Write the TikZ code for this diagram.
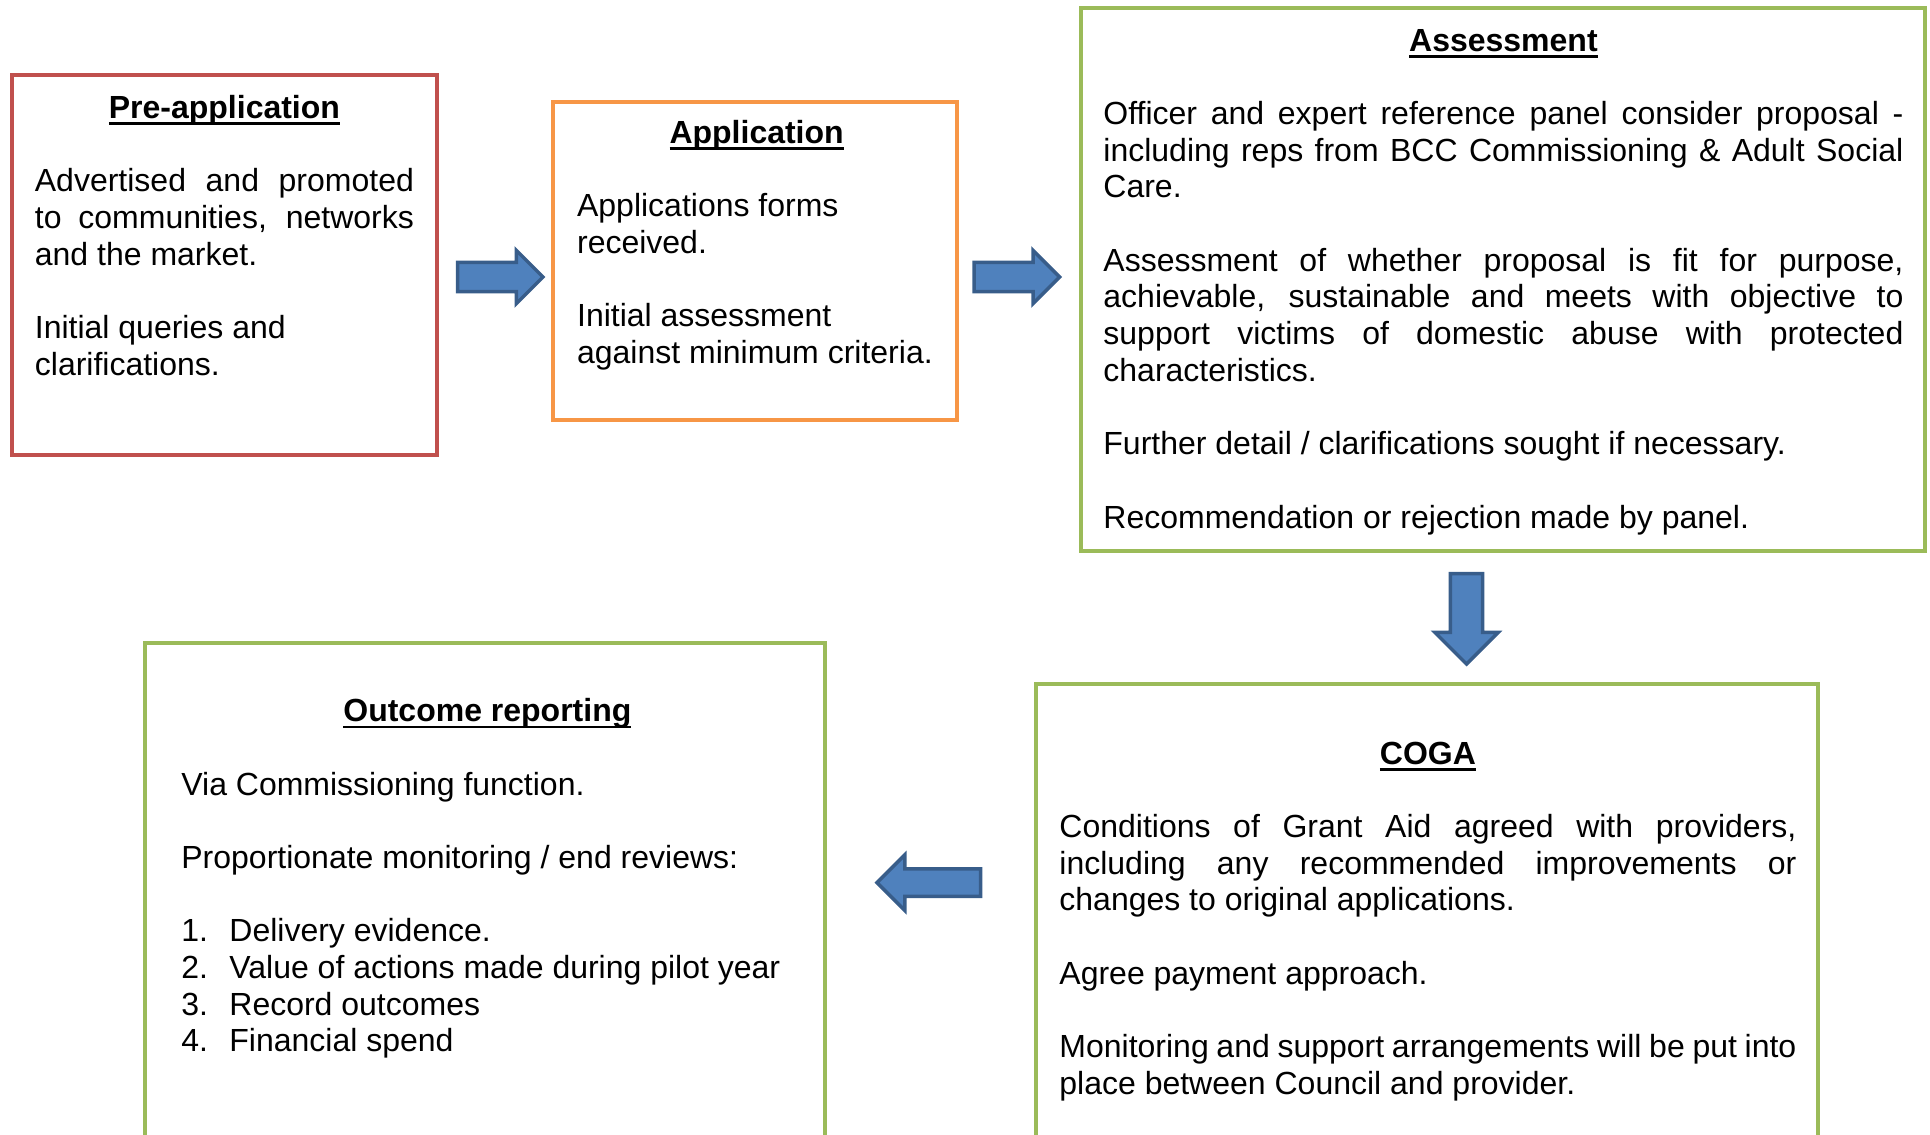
\documentclass[tikz,border=0pt]{standalone}
\usepackage{fontspec}
\setmainfont{Liberation Sans}
\usepackage{xcolor}
\usepackage{tikz}
\usetikzlibrary{shapes,arrows,positioning,calc}
\definecolor{boxred}{RGB}{192,80,77}
\definecolor{boxorange}{RGB}{247,150,70}
\definecolor{boxgreen}{RGB}{155,187,89}
\definecolor{arrowfill}{RGB}{79,129,189}
\definecolor{arrowline}{RGB}{56,93,138}

\newcommand{\boxhead}[1]{\par\centerline{\rule{0pt}{12pt}\setbox0=\hbox{\bfseries #1}\rlap{\rule[-3.4pt]{\wd0}{1.4pt}}\box0}}
\newcommand{\blankrow}{\par\mbox{}\par}
\newcommand{\itemno}[1]{\makebox[24pt][l]{#1}}

\begin{document}
\begin{tikzpicture}[x=0.5pt, y=-0.5pt,
    frame/.style={rectangle, draw=#1, line width=2pt, inner sep=0pt},
    body/.style={anchor=north west, inner sep=0pt, align=justify, font=\fontsize{16pt}{18.35pt}\selectfont,
        execute at begin node={\parindent=0pt\tolerance=10000\hbadness=10000\hyphenpenalty=10000}},
    bigarrow/.style={single arrow, draw=arrowline, fill=arrowfill, line width=1.75pt, inner xsep=0pt, anchor=tail, single arrow head extend=#1}]

    \useasboundingbox (0,0) rectangle (1930,1134);

    % frames
    \node[frame=boxred, minimum width=212.5pt, minimum height=190pt] (pre) at (224.5,265) {};
    \node[frame=boxorange, minimum width=202pt, minimum height=159.2pt] (app) at (755,260.9) {};
    \node[frame=boxgreen, minimum width=422pt, minimum height=271.5pt] (assess) at (1503,279.5) {};
    \node[frame=boxgreen, minimum width=391pt, minimum height=233pt] (coga) at (1427,917) {};
    \node[frame=boxgreen, minimum width=340pt, minimum height=253.5pt] (outcome) at (485,896.5) {};

    % texts
    \node[body, text width=189.5pt] (pretext) at (34.5,81.3) {%
        \boxhead{Pre-application}\blankrow
        Advertised and promoted\linebreak to communities, networks\linebreak and the market.\blankrow
        Initial queries and\newline clarifications.};
    \node[body, text width=179.5pt] (apptext) at (576.7,106.3) {%
        \boxhead{Application}\blankrow
        Applications forms\newline received.\blankrow
        Initial assessment\newline against minimum criteria.};
    \node[body, text width=400pt] (assesstext) at (1103,14) {%
        \boxhead{Assessment}\blankrow
        Officer and expert reference panel consider proposal -\linebreak including reps from BCC Commissioning \& Adult Social\linebreak Care.\blankrow
        Assessment of whether proposal is fit for purpose,\linebreak achievable, sustainable and meets with objective to\linebreak support victims of domestic abuse with protected\linebreak characteristics.\blankrow
        Further detail / clarifications sought if necessary.\blankrow
        Recommendation or rejection made by panel.};
    \node[body, text width=368.5pt] (cogatext) at (1059,727) {%
        \boxhead{COGA}\blankrow
        Conditions of Grant Aid agreed with providers,\linebreak including any recommended improvements or\linebreak changes to original applications.\blankrow
        Agree payment approach.\blankrow
        Monitoring and support arrangements will be put into\linebreak place between Council and provider.};
    \node[body, text width=306pt] (outcometext) at (181,684.5) {%
        \boxhead{Outcome reporting}\blankrow
        Via Commissioning function.\blankrow
        Proportionate monitoring / end reviews:\blankrow
        \itemno{1.}Delivery evidence.\par
        \itemno{2.}Value of actions made during pilot year\par
        \itemno{3.}Record outcomes\par
        \itemno{4.}Financial spend};

    % block arrows
    \node[bigarrow=6pt, inner ysep=6.4pt, minimum height=42.75pt] (prearrow) at (455.75,277) {};
    \node[bigarrow=6pt, inner ysep=6.4pt, minimum height=42.75pt] (apparrow) at (972.4,277) {};
    \node[bigarrow=7.75pt, inner ysep=7.2pt, minimum height=45.25pt, rotate=-90] (assessarrow) at (1466.5,571.75) {};
    \node[bigarrow=7pt, inner ysep=6pt, minimum height=51.75pt, rotate=180] (cogaarrow) at (982.25,882.6) {};
\end{tikzpicture}
\end{document}
